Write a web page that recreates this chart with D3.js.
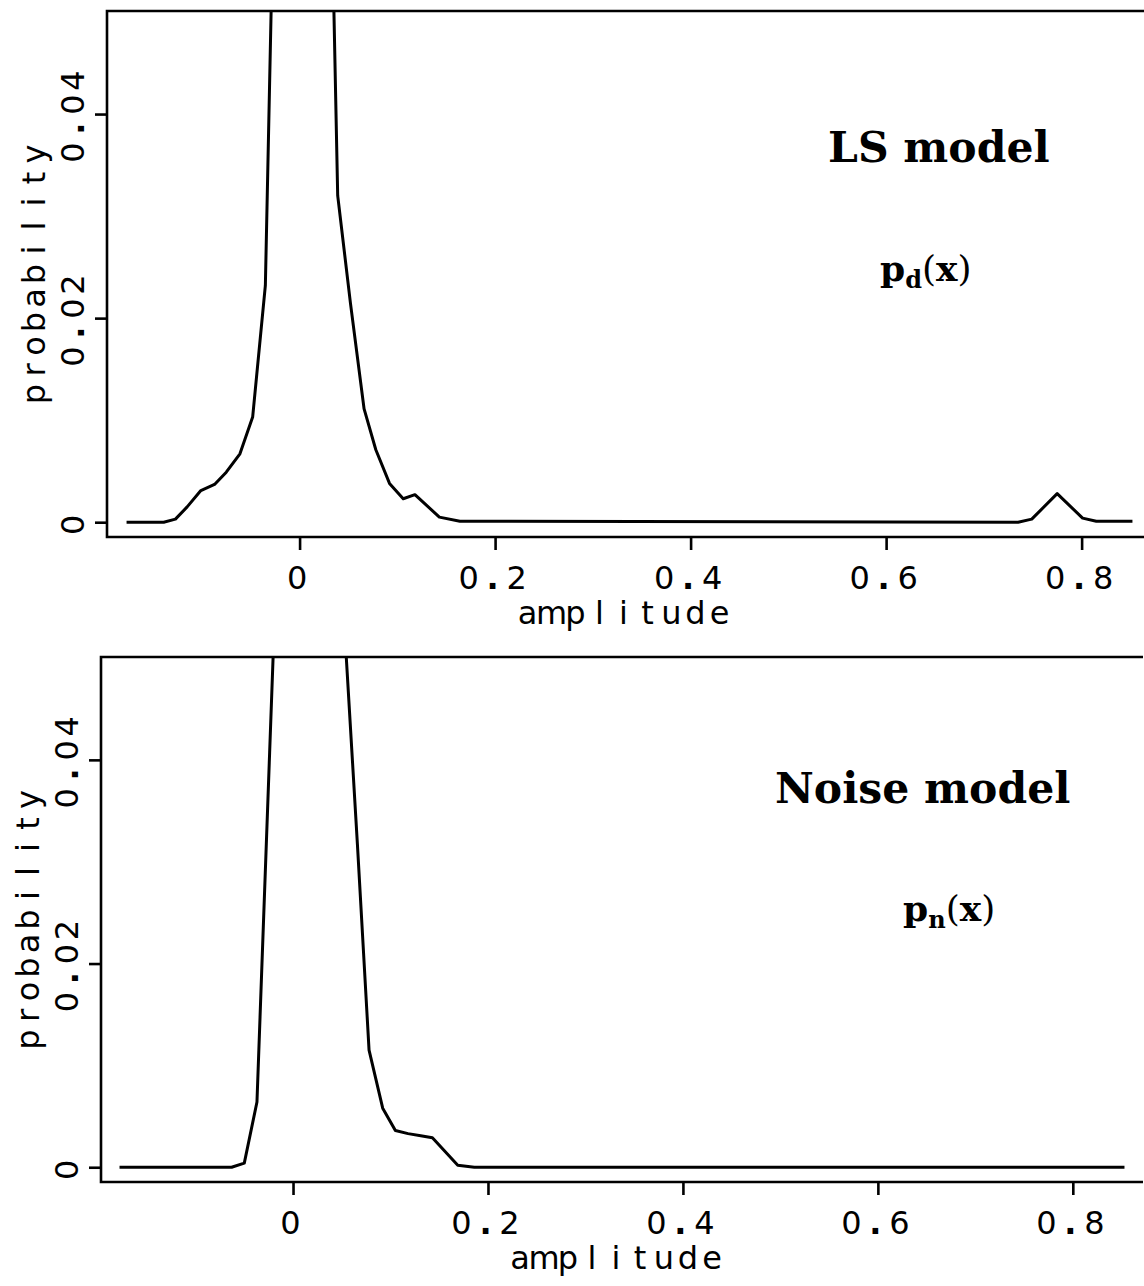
<!DOCTYPE html>
<html>
<head>
<meta charset="utf-8">
<script src="https://cdn.jsdelivr.net/npm/d3@7"></script>
<style>
  body { margin: 0; background: #fff; }
</style>
</head>
<body>
<div id="vis"></div>
<script>
// values
var xTicks = [0, 0.2, 0.4, 0.6, 0.8];
var xTickLabels = ["0", "0.2", "0.4", "0.6", "0.8"];
var yTicks = [0, 0.02, 0.04];
var yTickLabels = ["0", "0.02", "0.04"];
var xLim = [-0.197, 0.872];
var yLim = [-0.00145, 0.0501];

// LS model, p_d(x)
var lsX = [-0.177, -0.139, -0.127, -0.115, -0.101, -0.087, -0.075, -0.061, -0.048, -0.035,
           -0.023, -0.010, 0.003, 0.015, 0.027, 0.039, 0.052, 0.066, 0.078, 0.092,
           0.106, 0.118, 0.143, 0.164, 0.735, 0.749, 0.775, 0.801, 0.815, 0.852];
var lsY = [0, 0, 0.0003, 0.0015, 0.0031, 0.0037, 0.0049, 0.0067, 0.0103, 0.0232,
           0.078, 0.11, 0.13, 0.12, 0.088, 0.032, 0.0215, 0.0111, 0.0071, 0.0038,
           0.0023, 0.0027, 0.0005, 0.0001, 0, 0.0003, 0.0028, 0.0004, 0.0001, 0.0001];

// Noise model, p_n(x)
var noiseX = [-0.178, -0.063, -0.050, -0.037, -0.024, -0.011, 0.002, 0.014, 0.027, 0.040,
              0.053, 0.066, 0.078, 0.092, 0.105, 0.118, 0.131, 0.143, 0.169, 0.186, 0.853];
var noiseY = [0, 0, 0.0004, 0.0064, 0.0407, 0.075, 0.10, 0.11, 0.10, 0.08,
              0.0527, 0.0318, 0.0115, 0.0058, 0.0036, 0.0033, 0.0031, 0.0029, 0.0002, 0, 0];

var w = 1144;
var h = 1286;

var chart = d3.select("#vis")
              .append("svg")
              .attr("width", w)
              .attr("height", h)
              .style("background-color", "#fff")

var plotFont = "'DejaVu Sans', Roboto, sans-serif";
var serifFont = "'DejaVu Serif', 'Liberation Serif', serif";
var cell = 24; // the plotter font puts every character in a fixed-width cell

// write str into a text element, one centred glyph per cell (like the old plotter font)
function cellText(txt, str, cx) {
  txt.text(null)
     .attr("text-anchor", "middle")
     .style("font-family", plotFont)
     .style("font-size", "32px")
  const n = str.length;
  str.split("").forEach((c, i) => {
    txt.append("tspan")
       .attr("x", cx + (i - (n - 1) / 2) * cell)
       .style("font-weight", c === "." ? "bold" : null)
       .text(c);
  });
}

// one panel = box (left, top, bottom sides), ticks, labels and the curve
function panel(id, box, xs, ys, title, sub, titlePos, subPos) {
  const xScale = d3.scaleLinear().domain(xLim).range([box.left, box.right]);
  const yScale = d3.scaleLinear().domain(yLim).range([box.bottom, box.top]);

  const g = chart.append("g");

  g.append("clipPath").attr("id", id)
   .append("rect")
   .attr("x", box.left).attr("y", box.top)
   .attr("width", box.right - box.left).attr("height", box.bottom - box.top);

  // frame
  g.append("path")
   .attr("d", `M${box.right},${box.top}H${box.left}V${box.bottom}H${box.right}`)
   .attr("fill", "none")
   .attr("stroke", "#000")
   .attr("stroke-width", 2.6)

  const xAxis = g.append("g")
                 .attr("transform", `translate(0,${box.bottom})`)
                 .call(d3.axisBottom(xScale).tickValues(xTicks).tickSize(13).tickSizeOuter(0)
                         .tickFormat((d, i) => xTickLabels[i]))
  xAxis.select(".domain").remove();
  xAxis.selectAll("line").attr("stroke", "#000").attr("stroke-width", 2.6);
  xAxis.selectAll("text")
       .attr("y", 52).attr("dy", 0)
       .attr("fill", "#000")
       .each(function(d, i) { cellText(d3.select(this), xTickLabels[i], -3); });

  const yAxis = g.append("g")
                 .attr("transform", `translate(${box.left},0)`)
                 .call(d3.axisLeft(yScale).tickValues(yTicks).tickSize(12).tickSizeOuter(0)
                         .tickFormat((d, i) => yTickLabels[i]))
  yAxis.select(".domain").remove();
  yAxis.selectAll("line").attr("stroke", "#000").attr("stroke-width", 2.6);
  yAxis.selectAll("text")
       .attr("transform", "rotate(-90)")
       .attr("x", 0).attr("y", -23).attr("dy", 0)
       .attr("fill", "#000")
       .each(function(d, i) { cellText(d3.select(this), yTickLabels[i], -2); });

  g.append("text")
   .attr("y", box.bottom + 87)
   .call(cellText, "amplitude", (box.left + box.right) / 2 - 6)

  g.append("text")
   .attr("transform", `translate(${box.left - 62},${(box.top + box.bottom) / 2}) rotate(-90)`)
   .call(cellText, "probability", 0)

  // the density curve, cut at the top of the box like the original
  const line = d3.line()
                 .x((d, i) => xScale(xs[i]))
                 .y((d, i) => yScale(ys[i]))
  g.append("path")
   .datum(xs)
   .attr("d", line)
   .attr("clip-path", `url(#${id})`)
   .attr("fill", "none")
   .attr("stroke", "#000")
   .attr("stroke-width", 3)
   .attr("stroke-linejoin", "round")

  g.append("text")
   .attr("x", titlePos[0]).attr("y", titlePos[1])
   .style("font-family", serifFont)
   .style("font-weight", "bold")
   .style("font-size", "42.5px")
   .text(title)

  const t = g.append("text")
             .attr("x", subPos[0]).attr("y", subPos[1])
             .style("font-family", serifFont)
             .style("font-size", "36px")
  t.append("tspan").style("font-weight", "bold").text("p");
  t.append("tspan").style("font-weight", "bold").style("font-size", "24px").attr("dy", 7).text(sub);
  t.append("tspan").attr("dy", -7).text("(");
  t.append("tspan").style("font-weight", "bold").text("x");
  t.append("tspan").text(")");
}

panel("clipTop", {left: 107, right: 1152, top: 11, bottom: 537},
      lsX, lsY, "LS model", "d", [828, 162], [880, 281]);
panel("clipBottom", {left: 101, right: 1143, top: 657, bottom: 1182},
      noiseX, noiseY, "Noise model", "n", [775, 803], [903, 921]);
</script>
</body>
</html>
